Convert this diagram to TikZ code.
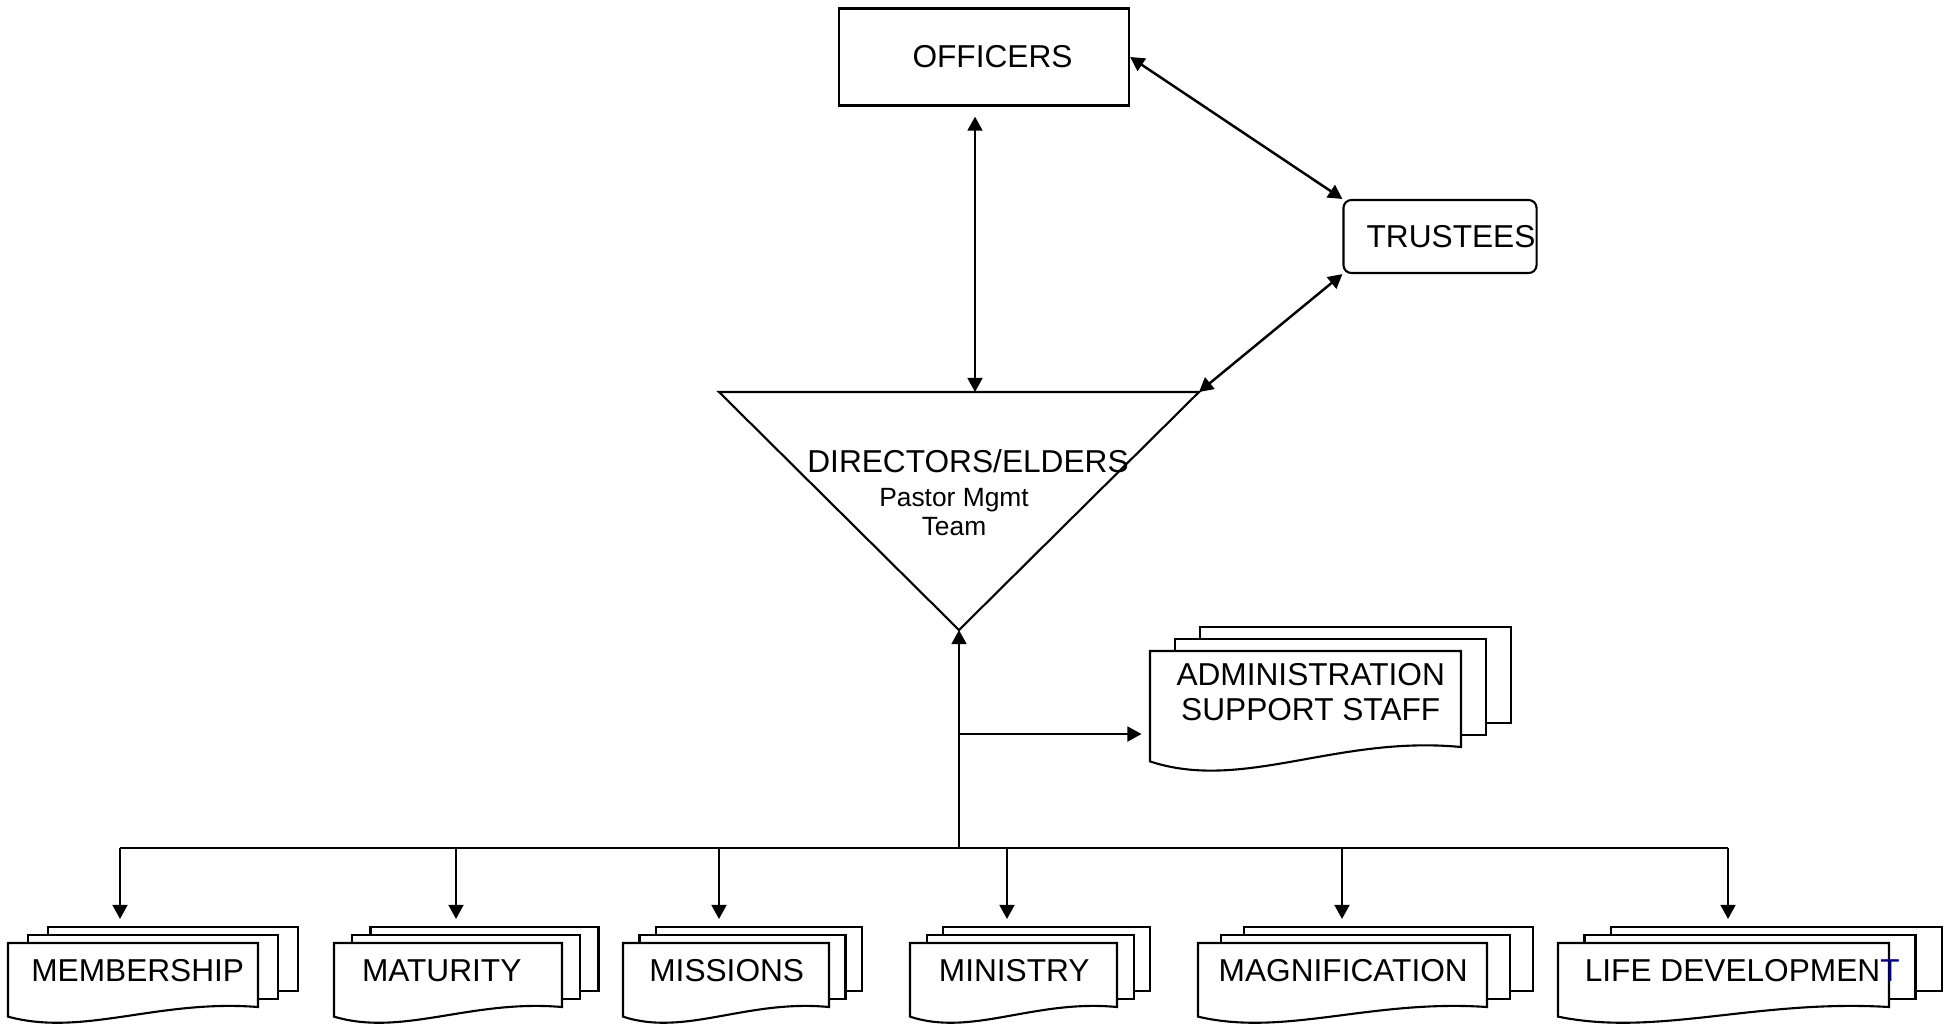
\documentclass[tikz,border=0pt]{standalone}
\usepackage{fontspec}
\setmainfont{Liberation Sans}
\usetikzlibrary{arrows.meta}
\definecolor{navy}{RGB}{0,0,128}

\tikzset{
  sheet/.style={draw, fill=white, line width=0.6pt},
  doctext/.style={inner sep=0pt, font=\fontsize{9}{9.4}\selectfont, align=center},
  box/.style={draw, line width=0.6pt, inner sep=0pt, font=\fontsize{9}{9.4}\selectfont},
  arr/.style={line width=0.7pt, -{Triangle[length=4pt,width=4.2pt]}},
  dblarr/.style={line width=0.7pt, {Triangle[length=4pt,width=4.2pt]}-{Triangle[length=4pt,width=4.2pt]}},
}

\newcommand{\docstack}[7][]{%
  \pgfmathsetmacro{\stackdx}{0.08*#5}
  \pgfmathsetmacro{\stackdy}{#6/8}
  \foreach \k in {2,1}
    \draw[sheet] (#3+\k*\stackdx,#4-\k*\stackdy) rectangle ++(#5,#6);
  \draw[sheet] (#3,#4) -- (#3+#5,#4) -- (#3+#5,#4+#6)
    .. controls (#3+0.6*#5,#4+0.875*#6) and (#3+0.3*#5,#4+1.47*#6) .. (#3,#4+1.15*#6) -- cycle;
  \node[doctext, anchor=north west, minimum width=#5*0.01cm, minimum height=0.84*#6*0.01cm, #1] (#2) at (#3,#4) {#7};
}

\begin{document}
\begin{tikzpicture}[x=0.01cm, y=-0.01cm]
  \useasboundingbox (0,0) rectangle (1952,1023);
  \node[box, minimum width=2.9cm, minimum height=0.97cm] (officers) at (984,57) {\hspace*{0.17cm}OFFICERS};
  \node[box, rounded corners=0.08cm, minimum width=1.93cm, minimum height=0.73cm] (trustees) at (1440,236.5) {\hspace*{0.22cm}TRUSTEES};

  \coordinate (dleft) at (719,392);
  \coordinate (dright) at (1199,392);
  \coordinate (dtip) at (959,630);
  \coordinate (dtop) at (975,392);
  \draw[line width=0.6pt] (dleft) -- (dright) -- (dtip) -- cycle;
  \node[doctext] (directors) at (968,461) {DIRECTORS/ELDERS};
  \node[doctext, font=\fontsize{7.5}{8.5}\selectfont] (pastor) at (954,512) {Pastor Mgmt\\Team};

  \draw[dblarr] (officers.east) -- (trustees.north west);
  \draw[dblarr] (dright) -- (trustees.south west);
  \draw[dblarr, shorten <=0.1cm] (officers.south -| dtop) -- (dtop);

  % staff and departments
  \docstack[xshift=0.045cm, font=\fontsize{9}{9.9}\selectfont]{admin}{1150}{651}{311}{96}{ADMINISTRATION\\SUPPORT STAFF}
  \docstack[xshift=0.04cm]{mem}{8}{943}{250}{64}{MEMBERSHIP}
  \docstack[xshift=-0.07cm]{mat}{334}{943}{228}{64}{MATURITY}
  \docstack{mis}{623}{943}{206}{64}{MISSIONS}
  \docstack{min}{910}{943}{207}{64}{MINISTRY}
  \docstack{mag}{1198}{943}{289}{64}{MAGNIFICATION}
  \docstack[xshift=0.18cm]{life}{1558}{943}{331}{64}{LIFE DEVELOPMEN\textcolor{navy}{T}}

  \coordinate (hub) at (959,848);
  \coordinate (split) at (959,734);
  \coordinate (b1) at (120,848);
  \coordinate (b2) at (456,848);
  \coordinate (b3) at (719,848);
  \coordinate (b4) at (1007,848);
  \coordinate (b5) at (1342,848);
  \coordinate (b6) at (1728,848);
  \draw[line width=0.7pt] (b1) -- (b6);
  \draw[arr] (hub) -- (dtip);
  \draw[arr, shorten >=0.13cm] (split) -- (split -| admin.west);
  \foreach \d [count=\i] in {mem,mat,mis,min,mag,life}
    \draw[arr, shorten >=0.24cm] (b\i) -- (b\i |- \d.north);
\end{tikzpicture}
\end{document}
